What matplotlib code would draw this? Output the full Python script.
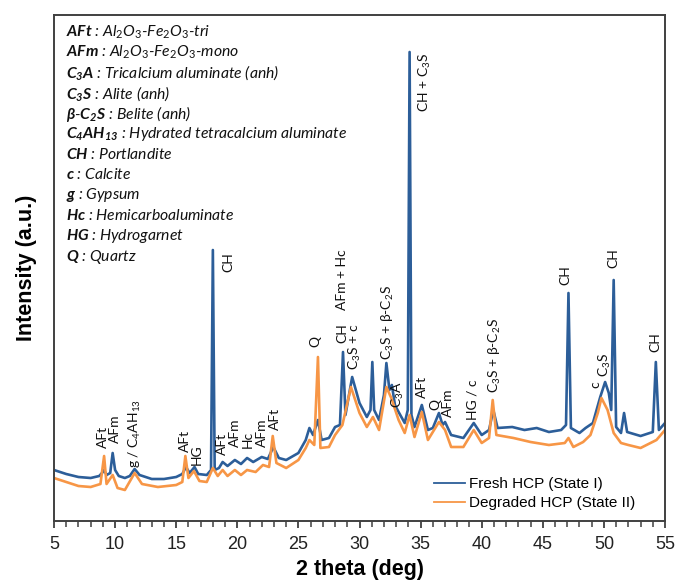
import matplotlib
matplotlib.use("Agg")
import matplotlib.pyplot as plt
from matplotlib.lines import Line2D

plt.rcParams['mathtext.fontset'] = 'custom'
plt.rcParams['mathtext.rm'] = 'Lato'
plt.rcParams['mathtext.it'] = 'Lato:italic'
plt.rcParams['mathtext.bf'] = 'Lato:bold'
plt.rcParams['mathtext.bfit'] = 'Lato:italic:bold'

# ---------------- data (intensity in arbitrary units) ----------------
fresh_2theta = [5.0, 5.5, 6.0, 7.0, 8.0, 8.7, 9.0, 9.1, 9.3, 9.6, 9.8, 10.0, 10.3, 10.8, 11.2, 11.6,
                12.0, 13.0, 14.0, 15.0, 15.5, 15.8, 16.1, 16.5, 16.8, 17.5, 17.85, 18.0, 18.15, 18.5,
                18.8, 19.2, 19.8, 20.3, 20.8, 21.3, 22.0, 22.5, 22.95, 23.4, 24.0, 25.0, 25.6, 25.9,
                26.2, 26.6, 26.9, 27.5, 28.0, 28.4, 28.65, 28.85, 29.4, 30.0, 30.6, 30.9, 31.05, 31.2,
                31.6, 32.0, 32.2, 32.45, 32.65, 32.9, 33.2, 33.7, 33.95, 34.1, 34.25, 34.5, 35.1, 35.6,
                36.0, 36.5, 36.8, 37.0, 37.5, 38.5, 39.35, 40.0, 40.6, 40.95, 41.3, 42.5, 43.5, 44.5,
                45.5, 46.5, 46.9, 47.1, 47.3, 48.0, 48.5, 49.1, 49.7, 50.1, 50.4, 50.6, 50.8, 51.0,
                51.4, 51.65, 51.9, 53.0, 54.0, 54.25, 54.5, 55.0]
fresh_int = [51, 49, 47, 44, 43, 45, 49, 51, 46, 48, 68, 51, 45, 43, 45, 52,
             46, 42, 42, 44, 47, 54, 48, 54, 47, 46, 51, 271, 51, 53,
             59, 55, 61, 57, 63, 59, 64, 62, 74, 63, 61, 68, 81, 93,
             86, 101, 81, 83, 94, 96, 169, 106, 144, 118, 104, 111, 159, 111,
             101, 126, 158, 131, 136, 116, 109, 98, 111, 469, 106, 94, 116, 91,
             93, 108, 96, 99, 86, 83, 98, 86, 91, 111, 93, 94, 91, 93,
             89, 91, 96, 228, 93, 88, 93, 98, 124, 139, 128, 111, 241, 94,
             88, 108, 89, 85, 89, 159, 91, 98]

degraded_2theta = [5.0, 6.0, 7.0, 8.0, 8.8, 9.1, 9.3, 9.8, 10.2, 10.8, 11.6, 12.2, 13.5, 15.0, 15.5,
                   15.75, 16.0, 16.45, 16.9, 17.5, 18.0, 18.4, 18.8, 19.2, 19.8, 20.3, 20.8, 21.5,
                   22.1, 22.6, 22.9, 23.2, 24.0, 25.0, 25.6, 25.9, 26.3, 26.6, 26.8, 27.5, 28.0,
                   28.6, 29.3, 30.0, 30.6, 31.1, 31.6, 32.2, 32.6, 33.2, 33.7, 34.1, 34.5, 35.1,
                   35.6, 36.5, 37.0, 37.5, 38.5, 39.35, 40.0, 40.6, 40.9, 41.2, 42.6, 44.0, 45.5,
                   46.8, 47.1, 47.5, 48.3, 48.9, 49.5, 49.8, 50.3, 50.8, 51.4, 52.0, 53.0, 54.3, 55.0]
degraded_int = [43, 39, 35, 34, 37, 65, 37, 46, 33, 31, 48, 37, 34, 36, 39,
                65, 43, 50, 40, 39, 53, 45, 51, 45, 51, 46, 51, 49,
                56, 54, 85, 58, 53, 61, 73, 81, 76, 164, 73, 74, 86,
                96, 134, 108, 94, 104, 91, 134, 123, 101, 88, 106, 84, 109,
                81, 99, 91, 74, 74, 91, 78, 83, 121, 86, 83, 79, 76,
                78, 83, 74, 79, 86, 108, 123, 111, 88, 78, 76, 73, 81, 91]

peak_labels = ["AFt", "AFm", "g / C$_4$AH$_{13}$", "AFt", "HG", "CH", "AFt", "AFm", "Hc", "AFm", "AFt",
               "Q", "CH", "AFm + Hc", "C$_3$S + c", "C$_3$S + β-C$_2$S", "C$_3$A", "AFt", "Q", "AFm",
               "HG / c", "C$_3$S + β-C$_2$S", "CH + C$_3$S", "CH", "c", "C$_3$S", "CH", "CH"]
peak_label_x = [9.01, 9.99, 11.63, 15.72, 16.70, 19.24, 18.75, 19.81, 20.88, 22.02, 23.08,
                26.36, 28.57, 28.57, 29.63, 32.33, 33.15, 35.11, 36.25, 37.25,
                39.21, 41.09, 35.36, 46.82, 49.27, 50.09, 50.74, 54.18]
peak_label_y = [73, 78, 53, 69, 56, 249, 66, 74, 73, 74, 91,
                174, 178, 211, 151, 161, 113, 123, 111, 104,
                101, 128, 409, 236, 133, 144, 253, 169]

key_abbrev = [r"$\mathbfit{AFt}$", r"$\mathbfit{AFm}$", r"$\mathbfit{C_3A}$", r"$\mathbfit{C_3S}$",
              r"$\mathbfit{β}$-$\mathbfit{C_2S}$", r"$\mathbfit{C_4AH_{13}}$", r"$\mathbfit{CH}$",
              r"$\mathbfit{c}$", r"$\mathbfit{g}$", r"$\mathbfit{Hc}$", r"$\mathbfit{HG}$", r"$\mathbfit{Q}$"]
key_desc = ["Al$_2$O$_3$-Fe$_2$O$_3$-tri", "Al$_2$O$_3$-Fe$_2$O$_3$-mono", "Tricalcium aluminate (anh)",
            "Alite (anh)", "Belite (anh)", "Hydrated tetracalcium aluminate", "Portlandite",
            "Calcite", "Gypsum", "Hemicarboaluminate", "Hydrogarnet", "Quartz"]

series_names = ["Fresh HCP (State I)", "Degraded HCP (State II)"]
series_colors = ["#2C5E99", "#F79646"]

x_ticks = [5, 10, 15, 20, 25, 30, 35, 40, 45, 50, 55]

# ---------------- figure ----------------
fig = plt.figure(figsize=(6.76, 5.86), dpi=100)
ax = fig.add_axes([54 / 676, 65 / 586, 611 / 676, 506 / 586])

ax.plot(fresh_2theta, fresh_int, color=series_colors[0], lw=1.9, solid_joinstyle='round')
ax.plot(degraded_2theta, degraded_int, color=series_colors[1], lw=1.9, solid_joinstyle='round')

ax.set_xlim(5, 55)
ax.set_ylim(0, 506)
ax.set_yticks([])
ax.set_xticks(x_ticks)
ax.set_xticks(range(5, 56), minor=True)
ax.tick_params(axis='x', which='major', direction='out', length=5, width=1.3, color='#404040',
               labelsize=13, pad=6, labelcolor='#222222')
ax.tick_params(axis='x', which='minor', direction='out', length=4, width=1.1, color='#404040')
for lab in ax.get_xticklabels():
    lab.set_family('Liberation Sans')
for sp in ax.spines.values():
    sp.set_color('#404040')
    sp.set_linewidth(1.4)

ax.set_xlabel("2 theta (deg)", fontsize=15.5, fontweight='bold', family='Liberation Sans', labelpad=4)
ax.set_ylabel("Intensity (a.u.)", fontsize=15.5, fontweight='bold', family='Liberation Sans', labelpad=12)

for lbl, lx, ly in zip(peak_labels, peak_label_x, peak_label_y):
    ax.text(lx, ly, lbl, rotation=90, ha='center', va='bottom', fontsize=10,
            family='Lato', color='#111111')

for i, (ab, de) in enumerate(zip(key_abbrev, key_desc)):
    ax.text(0.0196, 0.966 - i * 0.0403, ab + " : " + de, transform=ax.transAxes,
            ha='left', va='center', fontsize=11.3, family='Lato', style='italic', color='#111111')

handles = [Line2D([0], [0], color=c, lw=1.3) for c in series_colors]
ax.legend(handles, series_names, loc='upper left', bbox_to_anchor=((434 - 54) / 611, (521 - 477) / 506),
          frameon=False, prop={'family': 'Liberation Sans', 'size': 11}, handlelength=2.0,
          handletextpad=0.3, labelspacing=0.35, borderpad=0, borderaxespad=0)

fig.savefig("out.png", dpi=100)
